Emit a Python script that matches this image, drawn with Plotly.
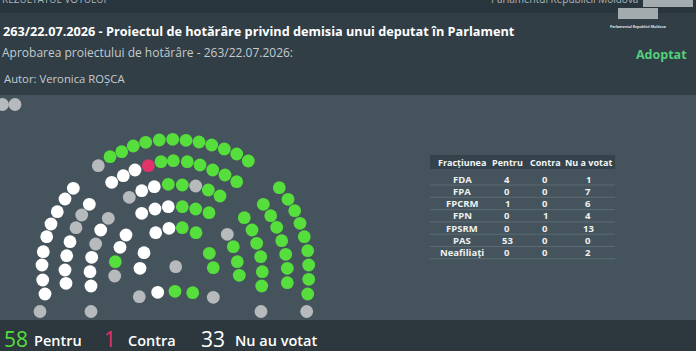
import plotly.graph_objects as go

W, H = 696, 351

# ---------------- data ----------------
title = "263/22.07.2026 - Proiectul de hotărâre privind demisia unui deputat în Parlament"
subtitle = "Aprobarea proiectului de hotărâre - 263/22.07.2026:"
author = "Autor: Veronica ROȘCA"
status = "Adoptat"

factions = ["FDA", "FPA", "FPCRM", "FPN", "FPSRM", "PAS", "Neafiliați"]
pentru = [4, 0, 1, 0, 0, 53, 0]
contra = [0, 0, 0, 1, 0, 0, 0]
nu_votat = [1, 7, 6, 4, 13, 0, 2]
table_header = ["Fracțiunea", "Pentru", "Contra", "Nu a votat"]

# seat positions in the hall (hall units), grouped by vote
pentru_x = [110.0, 121.7, 133.3, 145.7, 159.3, 172.7, 186.0, 199.0, 211.7, 224.3, 236.7, 248.3,
            161.0, 173.3, 187.3, 200.0, 212.7, 225.0, 236.7,
            168.3, 182.3, 208.3, 220.0,
            182.3, 195.7, 209.0,
            182.3, 196.0,
            115.3,
            175.0, 192.7,
            209.3, 213.3,
            233.3, 237.3, 239.3,
            244.3, 252.0, 256.7, 260.7, 262.3, 261.7,
            263.3, 270.7, 276.7, 281.7, 285.7, 287.3, 287.3,
            279.3, 288.0, 294.7, 300.0, 304.3, 307.7, 308.7, 308.7, 307.7]
pentru_y = [156.7, 151.7, 146.0, 142.3, 140.0, 139.3, 140.3, 142.0, 145.0, 149.0, 154.0, 161.0,
            161.7, 160.7, 161.7, 165.0, 170.0, 175.0, 181.7,
            184.3, 185.0, 190.0, 196.0,
            206.7, 209.0, 212.7,
            227.7, 232.7,
            261.7,
            291.3, 292.7,
            253.3, 267.7,
            246.7, 261.7, 275.3,
            217.7, 230.0, 243.3, 256.7, 271.7, 286.0,
            204.3, 215.7, 227.3, 240.7, 254.3, 268.3, 282.7,
            187.7, 199.3, 210.7, 223.3, 236.7, 250.7, 265.0, 279.3, 294.0]

contra_x = [148.3]
contra_y = [165.7]

nevotat_x = [111.7, 123.3, 135.0, 141.7, 154.3, 141.7, 155.0, 168.3, 155.7, 169.0,
             73.3, 65.0, 57.3, 51.0, 46.7, 43.3, 42.0, 42.7, 45.0,
             89.3, 70.0, 66.7, 65.0, 66.0,
             100.7, 91.7, 90.0, 91.0,
             126.0, 120.0,
             144.0, 140.0, 157.7]
nevotat_y = [182.3, 175.7, 170.0, 190.7, 186.7, 213.3, 209.0, 206.7, 232.7, 228.3,
             188.3, 199.0, 211.7, 224.0, 236.7, 251.7, 265.0, 280.0, 294.0,
             204.3, 241.7, 255.7, 270.0, 283.3,
             230.0, 257.3, 271.7, 286.0,
             235.0, 247.3,
             252.7, 268.3, 292.3]

absent_x = [2.5, 15.0, 98.3, 195.7, 129.3, 81.7, 76.0, 108.3, 95.7, 114.7, 139.3, 175.7,
            213.3, 227.3, 40.0, 91.0, 261.0, 306.7]
absent_y = [104.5, 104.5, 165.7, 186.0, 197.3, 215.0, 227.7, 218.3, 244.0, 276.0, 296.7, 266.7,
            297.3, 234.3, 311.5, 311.5, 311.5, 311.5]

# ---------------- style ----------------
C_TOP = "#28353c"
C_HEAD = "#313e45"
C_MAIN = "#45545c"
C_BOTTOM = "#2c383e"
C_GREEN = "#55de3c"
C_WHITE = "#ffffff"
C_GRAY = "#b7babd"
C_RED = "#e2336b"
FONT = "Open Sans, Liberation Sans, sans-serif"


def px(x):
    return x / W


def py(y):
    return 1 - y / H


fig = go.Figure()
SEAT = 12.8
for xs, ys, col in [(absent_x, absent_y, C_GRAY), (nevotat_x, nevotat_y, C_WHITE),
                    (pentru_x, pentru_y, C_GREEN), (contra_x, contra_y, C_RED)]:
    fig.add_trace(go.Scatter(x=xs, y=ys, mode="markers",
                             marker=dict(size=SEAT, color=col, line=dict(width=0)),
                             hoverinfo="skip", showlegend=False))

shapes = []
def rect(x0, y0, x1, y1, color, layer="below"):
    shapes.append(dict(type="rect", xref="paper", yref="paper", x0=px(x0), x1=px(x1),
                       y0=py(y1), y1=py(y0), fillcolor=color, line=dict(width=0), layer=layer))

ann = []
def text(x, y, s, size, color, weight="normal", xanchor="left"):
    ann.append(dict(x=px(x), y=py(y), xref="paper", yref="paper", text=s, showarrow=False,
                    xanchor=xanchor, yanchor="middle",
                    font=dict(family=FONT, size=size, color=color, weight=weight)))

rect(0, 0, W, 13, C_TOP)
rect(0, 13, W, 95, C_HEAD)
rect(0, 320, W, H, C_BOTTOM)
# logo blocks
rect(643, 0, 693, 7, "#a3abaf", "above")
rect(618, 8, 658, 19, "#a3abaf", "above")

# table (faction breakdown)
tx0, tx1 = 430, 615
col_x = [462, 507, 545, 588]
row_y0, row_h = 179, 12.3
rect(tx0, 155, tx1, 169, "#34434b")
for cx, h in zip(col_x, table_header):
    text(cx, 162, h, 9, "#f2f4f5", "bold", "center")
columns = [factions, pentru, contra, nu_votat]
for i in range(len(factions)):
    yy = row_y0 + row_h * i
    for cx, col in zip(col_x, columns):
        text(cx, yy, str(col[i]), 9.5, "#eef1f2", "bold", "center")
    yl = yy + 6
    shapes.append(dict(type="line", xref="paper", yref="paper", x0=px(tx0), x1=px(tx1),
                       y0=py(yl), y1=py(yl), line=dict(color="#5c6b73", width=1), layer="below"))

text(0, -1, "REZULTATUL VOTULUI", 10, "#aeb6ba")
text(640, -1, "Parlamentul Republicii Moldova", 10, "#aeb6ba", "normal", "right")
text(638, 26, "Parlamentul Republicii Moldova", 3.5, "#e0e4e6", "bold", "center")
text(1, 31, title, 12.7, "#ffffff", "bold")
text(0, 52, subtitle, 12, "#c3cbcf")
text(2, 78, author, 11.3, "#c3cbcf")
text(689, 54, status, 12.5, "#52cf7a", "bold", "right")

tot_p, tot_c, tot_n = sum(pentru), sum(contra), sum(nu_votat)
text(1.5, 339, str(tot_p), 21, C_GREEN)
text(32, 340, "Pentru", 14.5, "#ffffff", 600)
text(102, 339, str(tot_c), 21, C_RED)
text(126, 340, "Contra", 14.5, "#ffffff", 600)
text(199, 339, str(tot_n), 21, "#ffffff")
text(233, 340, "Nu au votat", 14.5, "#ffffff", 600)

fig.update_layout(
    width=W, height=H, margin=dict(l=0, r=0, t=0, b=0),
    paper_bgcolor=C_MAIN, plot_bgcolor=C_MAIN,
    xaxis=dict(range=[0, W], visible=False, fixedrange=True),
    yaxis=dict(range=[H, 0], visible=False, fixedrange=True),
    shapes=shapes, annotations=ann, showlegend=False, hovermode=False,
)
fig.write_html("out.html")
